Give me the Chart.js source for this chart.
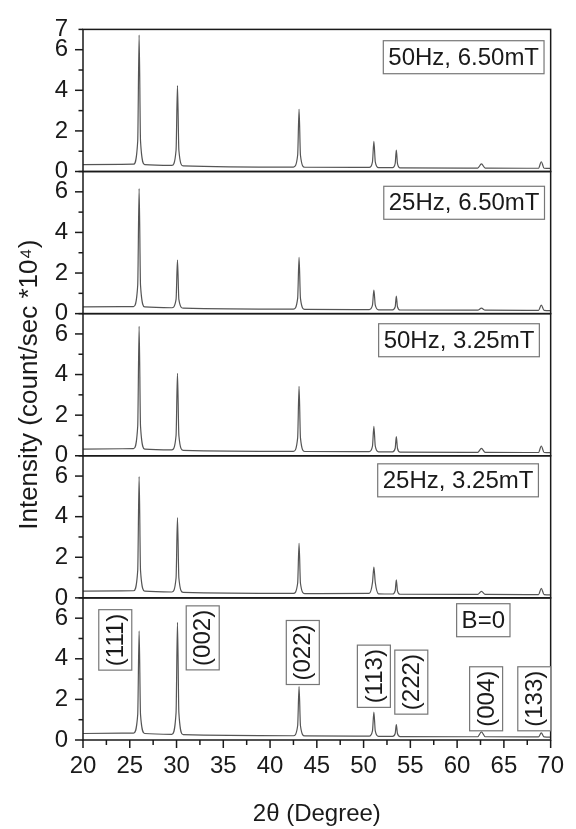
<!DOCTYPE html>
<html>
<head>
<meta charset="utf-8">
<script src="https://cdn.jsdelivr.net/npm/chart.js@4.4.1/dist/chart.umd.min.js"></script>
<style>
  html, body { margin: 0; padding: 0; background: #fff; }
  .chart-ctnr { position: relative; width: 576px; height: 829px; }
</style>
</head>
<body>
<div class="chart-ctnr"><canvas id="xrd" width="576" height="829"></canvas></div>
<script>
// 2theta positions (degree) shared by every pattern
const twoTheta = [20,
  25.4, 25.85, 26.0, 26.15, 26.6,
  29.5, 29.95, 30.1, 30.25, 30.7,
  42.5, 42.95, 43.1, 43.25, 43.7,
  50.6, 50.95, 51.1, 51.25, 51.6,
  53.1, 53.38, 53.5, 53.62, 53.9,
  62.2, 62.6, 63.0,
  68.7, 69.0, 69.3,
  70];

// intensity (count/sec *10^4), top panel to bottom panel
const int50Hz650 = [0.34,
  0.36, 1.5, 6.72, 1.5, 0.34,
  0.3, 1.05, 4.23, 1.05, 0.28,
  0.22, 0.8, 3.06, 0.8, 0.21,
  0.2, 0.48, 1.48, 0.48, 0.19,
  0.19, 0.4, 1.06, 0.4, 0.18,
  0.17, 0.38, 0.17,
  0.16, 0.48, 0.16,
  0.15];
const int25Hz650 = [0.33,
  0.35, 1.4, 6.16, 1.4, 0.33,
  0.29, 0.7, 2.64, 0.7, 0.27,
  0.22, 0.75, 2.77, 0.75, 0.21,
  0.2, 0.42, 1.16, 0.42, 0.19,
  0.19, 0.34, 0.87, 0.34, 0.18,
  0.17, 0.27, 0.17,
  0.16, 0.42, 0.16,
  0.15];
const int50Hz325 = [0.33,
  0.35, 1.45, 6.37, 1.45, 0.33,
  0.29, 1.0, 4.06, 1.0, 0.27,
  0.22, 0.88, 3.42, 0.88, 0.21,
  0.2, 0.47, 1.45, 0.47, 0.19,
  0.19, 0.37, 0.94, 0.37, 0.18,
  0.17, 0.36, 0.17,
  0.16, 0.48, 0.16,
  0.15];
const int25Hz325 = [0.33,
  0.35, 1.35, 5.97, 1.35, 0.33,
  0.29, 0.98, 3.95, 0.98, 0.27,
  0.22, 0.72, 2.69, 0.72, 0.21,
  0.22, 0.75, 1.52, 0.75, 0.2,
  0.19, 0.35, 0.89, 0.35, 0.18,
  0.17, 0.32, 0.17,
  0.16, 0.47, 0.16,
  0.15];
const intB0 = [0.32,
  0.34, 1.25, 5.37, 1.25, 0.32,
  0.28, 1.35, 5.8, 1.35, 0.26,
  0.21, 0.7, 2.63, 0.7, 0.2,
  0.19, 0.45, 1.37, 0.45, 0.18,
  0.18, 0.32, 0.76, 0.32, 0.17,
  0.16, 0.4, 0.16,
  0.15, 0.35, 0.15,
  0.14];

const panelNames = ["50Hz, 6.50mT", "25Hz, 6.50mT", "50Hz, 3.25mT", "25Hz, 3.25mT", "B=0"];
const peakNames = ["(111)", "(002)", "(022)", "(113)", "(222)", "(004)", "(133)"];
const xTickLabels = [20, 25, 30, 35, 40, 45, 50, 55, 60, 65, 70];
const yTickLabels = [0, 2, 4, 6];

// where the boxed texts sit, in axis units (x: degree, y: intensity of that panel)
const panelLabelAt = [[60.7, 5.63], [60.75, 5.46], [60.2, 5.69], [60.1, 5.79], [62.8, 5.9]];
const peakLabelAt = [[23.45, 4.93], [32.8, 5.03], [43.5, 4.31], [51.1, 3.14], [55.1, 2.85], [63.1, 2.03], [68.25, 2.03]];

const allPatterns = [int50Hz650, int25Hz650, int50Hz325, int25Hz325, intB0];
const panelIds = ["y1", "y2", "y3", "y4", "y5"];
const fontName = "'Liberation Sans', Arial, sans-serif";
const inkColor = "#1a1a1a";

// the 5 patterns, each on its own stacked y axis
const datasets = allPatterns.map((vals, i) => ({
  label: panelNames[i],
  data: twoTheta.map((t, k) => ({ x: t, y: vals[k] })),
  yAxisID: panelIds[i],
  borderColor: "#555",
  borderWidth: 1.2,
  pointRadius: 0,
  cubicInterpolationMode: "monotone",
  fill: false,
}));

const scales = {
  x: {
    type: "linear",
    min: 20,
    max: 70,
    grid: { display: false, drawTicks: false },
    border: { display: false },
    ticks: {
      stepSize: 2.5,
      autoSkip: false,
      maxRotation: 0,
      padding: 12,
      color: inkColor,
      font: { family: fontName, size: 24 },
      callback: (v) => (xTickLabels.includes(v) ? v : ""),
    },
    title: {
      display: true,
      text: "2\u03b8 (Degree)",
      color: inkColor,
      font: { family: fontName, size: 24 },
      padding: { top: 4, bottom: 0 },
    },
    afterFit: (s) => {
      s.height = 89;
    },
  },
};

panelIds.forEach((id, i) => {
  scales[id] = {
    type: "linear",
    position: "left",
    stack: "xrd",
    stackWeight: 1,
    weight: panelIds.length - i,
    min: 0,
    max: 7,
    offset: false,
    grid: { display: false, drawTicks: false },
    border: { display: false },
    ticks: {
      stepSize: 1,
      autoSkip: false,
      padding: 15,
      color: inkColor,
      font: { family: fontName, size: 24 },
      callback: (v) => (yTickLabels.includes(v) || (i === 0 && v === 7) ? v : ""),
    },
    title: {
      display: i === 2,
      text: "Intensity (count/sec *10\u2074)",
      color: inkColor,
      font: { family: fontName, size: 26 },
      padding: { top: 14, bottom: 0 },
    },
    afterFit: (s) => {
      s.width = 83;
    },
  };
});

// frames, tick marks and the boxed texts
const panelDecor = {
  id: "panelDecor",
  afterDraw(chart) {
    const ctx = chart.ctx;
    const area = chart.chartArea;
    const xs = chart.scales.x;

    const line = (x1, y1, x2, y2) => {
      ctx.beginPath();
      ctx.moveTo(x1, y1);
      ctx.lineTo(x2, y2);
      ctx.stroke();
    };

    ctx.save();
    ctx.strokeStyle = inkColor;
    ctx.lineWidth = 1.5;

    panelIds.forEach((id) => {
      const ys = chart.scales[id];
      ctx.strokeRect(area.left, ys.top, area.right - area.left, ys.bottom - ys.top);
      ys.ticks.forEach((t) => {
        const y = ys.getPixelForValue(t.value);
        const len = t.value % 2 === 0 ? 8 : 4.5;
        line(area.left - len, y, area.left, y);
      });
    });

    xs.ticks.forEach((t) => {
      const x = xs.getPixelForValue(t.value);
      const len = t.value % 5 === 0 ? 8 : 5;
      line(x, area.bottom, x, area.bottom + len);
    });

    ctx.font = "24px " + fontName;
    ctx.textAlign = "center";
    ctx.textBaseline = "middle";
    ctx.lineWidth = 1.2;

    // condition labels, top right of each panel
    panelNames.forEach((name, i) => {
      const ys = chart.scales[panelIds[i]];
      const cx = xs.getPixelForValue(panelLabelAt[i][0]);
      const cy = ys.getPixelForValue(panelLabelAt[i][1]);
      const w = ctx.measureText(name).width + 10;
      const h = 33;
      ctx.fillStyle = "#fff";
      ctx.fillRect(cx - w / 2, cy - h / 2, w, h);
      ctx.strokeStyle = "#777";
      ctx.strokeRect(cx - w / 2, cy - h / 2, w, h);
      ctx.fillStyle = inkColor;
      ctx.fillText(name, cx, cy + 1);
    });

    // miller indices on the bottom pattern, written upwards
    const ysB = chart.scales.y5;
    peakNames.forEach((name, i) => {
      const cx = xs.getPixelForValue(peakLabelAt[i][0]);
      const cy = ysB.getPixelForValue(peakLabelAt[i][1]);
      const len = ctx.measureText(name).width + 8;
      const thick = 33;
      ctx.save();
      ctx.translate(cx, cy);
      ctx.rotate(-Math.PI / 2);
      ctx.fillStyle = "#fff";
      ctx.fillRect(-len / 2, -thick / 2, len, thick);
      ctx.strokeStyle = "#777";
      ctx.strokeRect(-len / 2, -thick / 2, len, thick);
      ctx.fillStyle = inkColor;
      ctx.fillText(name, 0, 1);
      ctx.restore();
    });

    ctx.restore();
  },
};

new Chart(document.getElementById("xrd"), {
  type: "line",
  data: { datasets },
  options: {
    responsive: false,
    animation: false,
    layout: { padding: { top: 18, right: 22, left: 0, bottom: 0 } },
    plugins: { legend: { display: false }, tooltip: { enabled: false } },
    scales,
  },
  plugins: [panelDecor],
});
</script>
</body>
</html>
